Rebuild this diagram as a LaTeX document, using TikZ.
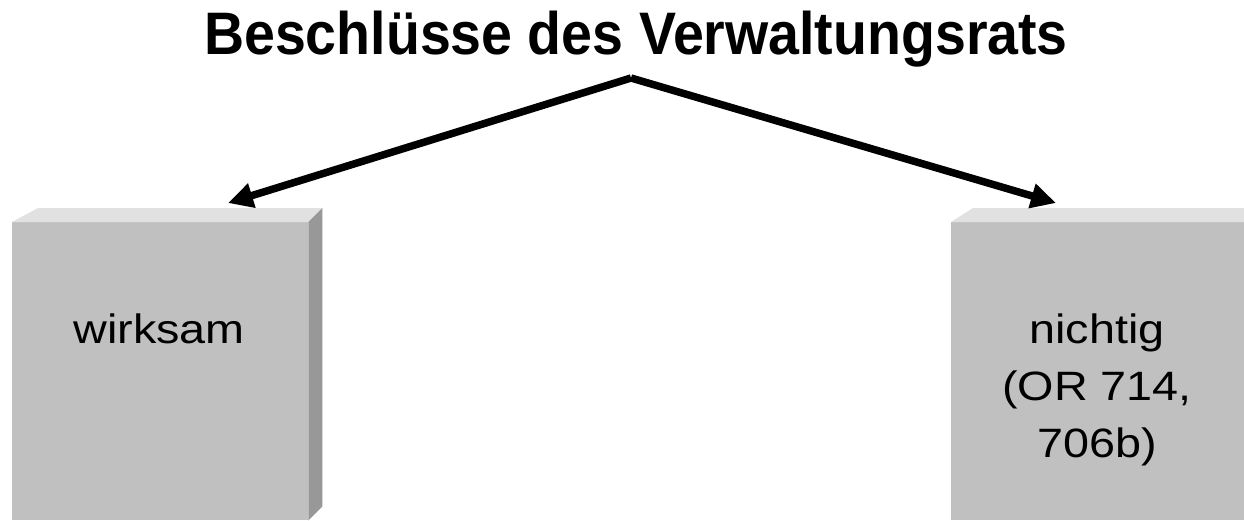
\documentclass[tikz,border=0pt]{standalone}
\usepackage{fontspec}
\setmainfont{Liberation Sans}
\usetikzlibrary{positioning,arrows.meta,calc}
\definecolor{BoxFront}{RGB}{192,192,192}
\definecolor{BoxTop}{RGB}{225,225,225}
\definecolor{BoxSide}{RGB}{152,152,152}
\newcommand{\wide}[1]{\scalebox{1.14}[1]{#1}}

\begin{document}
\begin{tikzpicture}[x=1pt, y=-1pt,
    heading/.style={font=\bfseries\fontsize{60}{62}\selectfont, inner sep=0pt},
    block/.style={rectangle, fill=BoxFront, draw=none, inner sep=0pt,
                  minimum width=296pt, minimum height=298pt},
    blocktext/.style={align=center, inner sep=0pt, font=\fontsize{41}{57}\selectfont},
    conn/.style={line width=7.5pt, -{Triangle[length=25pt, width=24pt]}},
]
    \useasboundingbox (0,0) rectangle (1244,520);
    \fill[white] (0,0) rectangle (1244,520);

    \node[heading, anchor=base] (title) at (636,54) {\scalebox{0.925}[1]{Beschlüsse des Verwaltungsrats}};

    % the two blocks, front face as node, top and side drawn on
    \node[block, anchor=north west] (lblock) at (12,222) {};
    \fill[BoxTop] (lblock.north west) -- ++(26,-14) -- ($(lblock.north east)+(14,-14)$) -- (lblock.north east) -- cycle;
    \fill[BoxSide] (lblock.north east) -- ++(14,-14) -- ($(lblock.south east)+(14,-14)$) -- (lblock.south east) -- cycle;
    \node[blocktext, anchor=base] (wirksam) at (159,343) {\wide{wirksam}};

    \node[block, anchor=north west] (rblock) at (951,222) {};
    \fill[BoxTop] (rblock.north west) -- ++(22,-14) -- ($(rblock.north east)+(14,-14)$) -- (rblock.north east) -- cycle;
    \node[blocktext, anchor=base] (nichtig) at (1097,457) {\wide{nichtig}\\\wide{(OR 714,}\\\wide{706b)}};

    % arrows
    \coordinate (apex) at (631,78);
    \coordinate (ltip) at (228,203);
    \coordinate (rtip) at (1056,203);
    \draw[conn] (apex) -- (ltip);
    \draw[conn] (apex) -- (rtip);
\end{tikzpicture}
\end{document}
